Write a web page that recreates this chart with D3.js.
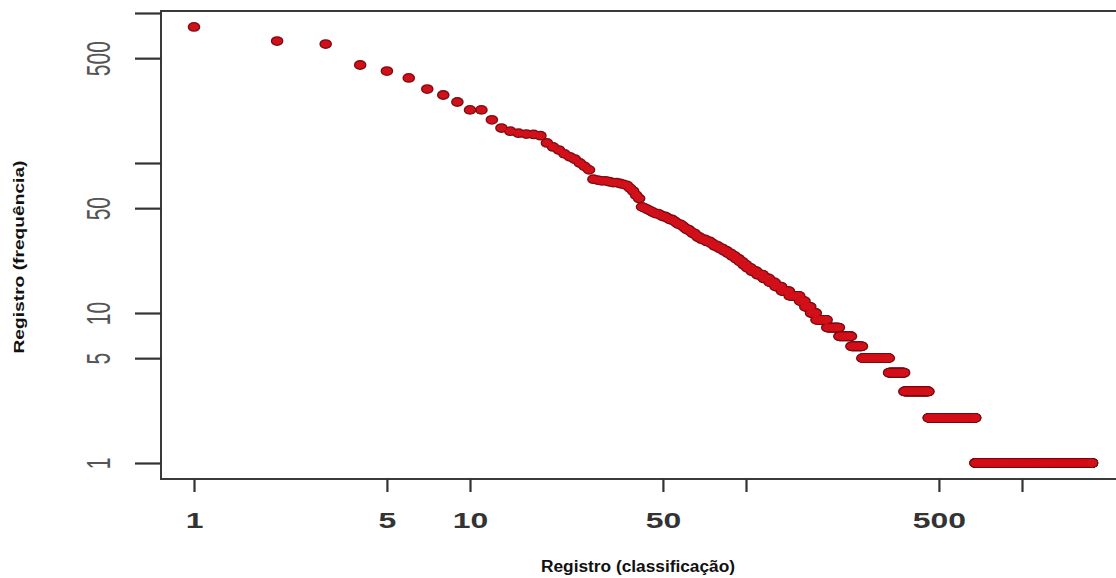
<!DOCTYPE html>
<html>
<head>
<meta charset="utf-8">
<script src="https://cdn.jsdelivr.net/npm/d3@7"></script>
<style>
  html, body { margin: 0; padding: 0; background: #fff; }
  svg { display: block; }
</style>
</head>
<body>
<div id="chart"></div>
<script>
// Frequency spectrum: each frequency and how many words share it
const freqLevels = [807, 650, 621, 450, 410, 369, 311, 284, 255, 226, 194,
  171, 163, 158, 156, 155, 152, 136, 128, 122, 115, 110, 106, 100, 95, 90,
  78, 77, 76, 75, 74, 73, 72, 71, 68, 65, 61, 58,
  51, 50, 49, 48, 47, 46, 45, 44, 43, 42, 41, 40, 39, 38, 37, 36, 35, 34, 33, 32,
  31, 30, 29, 28, 27, 26, 25, 24, 23, 22, 21, 20, 19, 18, 17, 16, 15, 14, 13,
  12, 11, 10, 9, 8, 7, 6, 5, 4, 3, 2, 1];
const wordCounts = [1, 1, 1, 1, 1, 1, 1, 1, 1, 2, 1,
  1, 1, 1, 1, 1, 1, 1, 1, 1, 1, 1, 1, 1, 1, 1,
  1, 1, 2, 1, 2, 1, 1, 1, 1, 1, 1, 1,
  1, 1, 1, 1, 1, 2, 1, 2, 1, 2, 1, 1, 2, 1, 1, 2, 1, 2, 1, 2,
  3, 3, 2, 3, 3, 3, 3, 3, 3, 3, 3, 4, 5, 6, 6, 6, 7, 9, 13,
  7, 8, 8, 17, 21, 23, 23, 66, 45, 84, 219, 1117];

const xTickValues = [1, 5, 10, 50, 100, 500, 1000];
const xTickLabels = ['1', '5', '10', '50', '', '500', ''];
const yTickValues = [1, 5, 10, 50, 100, 500, 1000];
const yTickLabels = ['1', '5', '10', '50', '', '500', ''];

const xTitle = 'Registro (classificação)';
const yTitle = 'Registro (frequência)';

document.addEventListener('DOMContentLoaded', function() {
  const width = 1116;
  const height = 578;

  // rank / frequency pairs, ranks follow the sorted frequencies
  const points = [];
  let rank = 1;
  freqLevels.forEach((f, i) => {
    for (let k = 0; k < wordCounts[i]; k++) {
      points.push({ rank: rank, freq: f });
      rank++;
    }
  });

  const x = d3.scaleLog().domain([1, 1000]).range([194, 1022]);
  const y = d3.scaleLog().domain([1, 1000]).range([463, 13]);

  const box = { left: 161, top: 11, right: 1140, bottom: 479 };

  const svg = d3.select('#chart')
    .append('svg')
    .attr('width', width)
    .attr('height', height);

  // points: dark rim layer first, red fill on top so tied runs read as one bar
  const dots = svg.append('g');
  dots.append('g')
    .selectAll('ellipse')
    .data(points)
    .join('ellipse')
    .attr('cx', d => x(d.rank))
    .attr('cy', d => y(d.freq))
    .attr('rx', 6.3)
    .attr('ry', 4.9)
    .attr('fill', '#7a0c12');
  dots.append('g')
    .selectAll('ellipse')
    .data(points)
    .join('ellipse')
    .attr('cx', d => x(d.rank))
    .attr('cy', d => y(d.freq))
    .attr('rx', 5)
    .attr('ry', 3.6)
    .attr('fill', '#d2101a');

  // plot frame
  svg.append('rect')
    .attr('x', box.left)
    .attr('y', box.top)
    .attr('width', box.right - box.left)
    .attr('height', box.bottom - box.top)
    .attr('fill', 'none')
    .attr('stroke', '#3a3a3a')
    .attr('stroke-width', 2);

  // x axis
  const xAxis = svg.append('g')
    .attr('transform', `translate(0,${box.bottom})`)
    .call(d3.axisBottom(x)
      .tickValues(xTickValues)
      .tickSize(13)
      .tickFormat((d, i) => xTickLabels[i]));
  xAxis.select('.domain').remove();
  xAxis.selectAll('line').attr('stroke', '#333').attr('stroke-width', 2.2);
  xAxis.selectAll('text').remove();
  xAxis.selectAll('.tick')
    .append('text')
    .attr('transform', 'translate(0,49) scale(1.45,1)')
    .attr('text-anchor', 'middle')
    .attr('fill', '#333')
    .attr('font-family', 'Liberation Sans, Arial, sans-serif')
    .attr('font-weight', 'bold')
    .attr('font-size', 22)
    .text((d, i) => xTickLabels[i]);

  // y axis
  const yAxis = svg.append('g')
    .attr('transform', `translate(${box.left},0)`)
    .call(d3.axisLeft(y)
      .tickValues(yTickValues)
      .tickSize(26)
      .tickFormat((d, i) => yTickLabels[i]));
  yAxis.select('.domain').remove();
  yAxis.selectAll('line').attr('stroke', '#333').attr('stroke-width', 2.2);
  yAxis.selectAll('text').remove();
  yAxis.selectAll('.tick')
    .append('text')
    .attr('transform', 'translate(-63,0) scale(1.6,1) rotate(-90)')
    .attr('text-anchor', 'middle')
    .attr('dy', '0.36em')
    .attr('fill', '#555')
    .attr('font-family', 'Liberation Sans, Arial, sans-serif')
    .attr('font-size', 21)
    .text((d, i) => yTickLabels[i]);

  // axis titles
  svg.append('text')
    .attr('x', 638)
    .attr('y', 572)
    .attr('text-anchor', 'middle')
    .attr('font-family', 'Liberation Sans, Arial, sans-serif')
    .attr('font-weight', 'bold')
    .attr('font-size', 16)
    .attr('textLength', 194)
    .attr('lengthAdjust', 'spacingAndGlyphs')
    .attr('fill', '#111')
    .text(xTitle);

  svg.append('text')
    .attr('transform', 'translate(24,257) rotate(-90)')
    .attr('text-anchor', 'middle')
    .attr('font-family', 'Liberation Sans, Arial, sans-serif')
    .attr('font-weight', 'bold')
    .attr('font-size', 15)
    .attr('textLength', 193)
    .attr('lengthAdjust', 'spacingAndGlyphs')
    .attr('fill', '#111')
    .text(yTitle);
});
</script>
</body>
</html>
